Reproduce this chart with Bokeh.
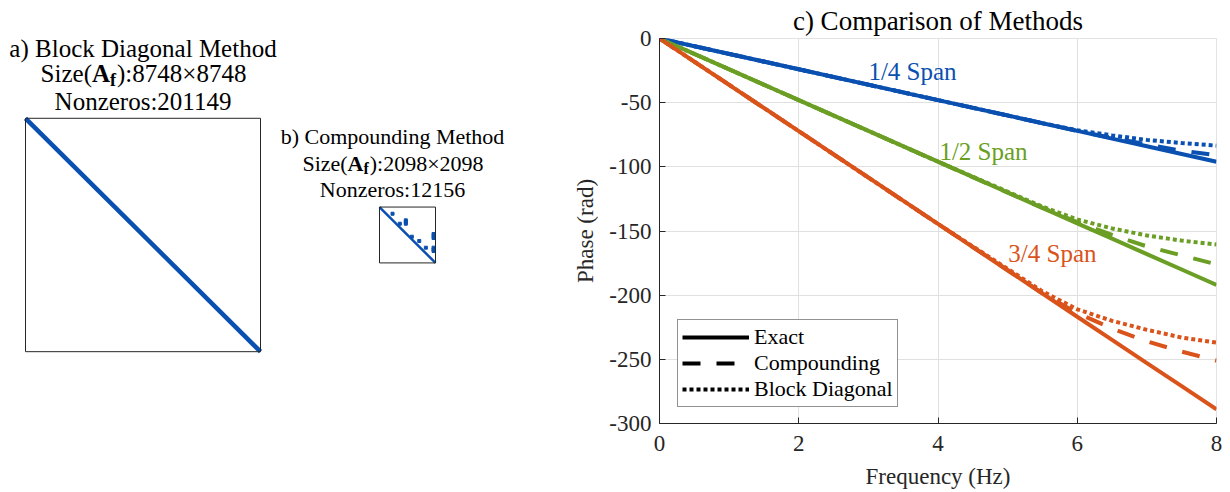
from bokeh.plotting import figure
from bokeh.models import (Label, Range1d, Legend, LegendItem, ColumnDataSource, FixedTicker,
                          CustomJSTickFormatter)
from bokeh.layouts import row
from bokeh.core.properties import value
from bokeh.embed import file_html
from bokeh.resources import INLINE

FONT = "Liberation Serif"
BLUE = "#0A50B0"
GREEN = "#6B9E24"
ORANGE = "#D9531A"
DARK = "#262626"

# ---------------- data: sparsity patterns ----------------
size_a = 8748
nnz_a = 201149
size_b = 2098
nnz_b = 12156
diag_a = [0, 8748]
diag_b = [0, 2098]
off_b_cols = [488, 761, 986, 986, 986, 1211, 1489, 1736, 2025, 2025, 2025, 2025, 2025, 2025]
off_b_rows = [251, 626, 499, 560, 626, 1114, 1275, 1526, 1012, 1088, 1163, 1526, 1590, 1650]

# ---------------- data: phase comparison ----------------
freq = [0, 2, 4, 5.5, 6, 6.5, 7, 7.5, 8]
exact_q = [0, -24, -48, -66, -72, -78, -84, -90, -96]
exact_h = [0, -48, -96, -132, -144, -156, -168, -180, -192]
exact_t = [0, -72.2, -144.5, -198.7, -216.8, -234.8, -252.9, -270.9, -289]
comp_q = [0, -24, -48, -66, -72, -77.5, -82.5, -87.5, -91]
comp_h = [0, -48, -96, -132, -143, -153, -162, -169, -176]
comp_t = [0, -72.2, -144.5, -198.5, -214, -226, -236, -244, -251]
block_q = [0, -24, -48, -66, -71.5, -75.5, -79, -81.5, -83.5]
block_h = [0, -48, -96, -131, -141, -148, -153.5, -157.5, -160.5]
block_t = [0, -72.2, -144.5, -197, -211, -220, -227, -233, -237]
span_labels = ["1/4 Span", "1/2 Span", "3/4 Span"]
span_x = [3.0, 4.02, 5.01]
span_y = [-26, -88, -167.5]
x_ticks = [0, 2, 4, 6, 8]
y_ticks = [-300, -250, -200, -150, -100, -50, 0]
legend_labels = ["Exact", "Compounding", "Block Diagonal"]

# layout (pixels) shared by both figures
TOP, BOTTOM = 37, 69
H = 492
FRAME_TOP, FRAME_BOT = TOP, H - BOTTOM  # 37 .. 423
LEFT_W = 560


def title_lines(fig, xr, yr, xc, ys, line1, size_txt, line3, fs=24):
    common = dict(text_font=FONT, text_font_size=f"{fs}px", text_color="black",
                  text_baseline="middle", x_range_name=xr, y_range_name=yr)
    fig.add_layout(Label(x=xc, y=ys[0], text=line1, text_align="center", **common))
    fig.add_layout(Label(x=xc, y=ys[2], text=line3, text_align="center", **common))
    w1 = 2.055 * fs
    w2 = 0.722 * fs
    w3 = 0.333 * fs * 0.72
    rest = "):" + size_txt
    w4 = 5.175 * fs
    start = -(w1 + w2 + w3 + w4) / 2
    fig.add_layout(Label(x=xc, y=ys[1], text="Size(", text_align="left", x_offset=start, **common))
    fig.add_layout(Label(x=xc, y=ys[1], text="A", text_align="left", x_offset=start + w1,
                         text_font_style="bold", **common))
    c2 = dict(common)
    c2["text_font_size"] = f"{int(round(fs*0.72))}px"
    fig.add_layout(Label(x=xc, y=ys[1], text="f", text_align="left", x_offset=start + w1 + w2,
                         y_offset=-0.25 * fs, text_font_style="bold", **c2))
    fig.add_layout(Label(x=xc, y=ys[1], text=rest, text_align="left",
                         x_offset=start + w1 + w2 + w3 + 1, **common))


def spy_ranges(n, x0, x1, y0, y1):
    sx = n / (x1 - x0)
    sy = n / (y1 - y0)
    xr = Range1d(-x0 * sx, (LEFT_W - x0) * sx)
    yr = Range1d((FRAME_BOT - y0) * sy, -(y0 - FRAME_TOP) * sy)
    return xr, yr, sx, sy


# ---------------- panels a and b (one canvas) ----------------
fl = figure(width=LEFT_W, height=H, x_range=Range1d(0, 1), y_range=Range1d(0, 1),
            output_backend="svg", toolbar_location=None, x_axis_location=None,
            y_axis_location=None, min_border_left=0, min_border_right=0,
            min_border_top=TOP, min_border_bottom=BOTTOM)
fl.xgrid.visible = False
fl.ygrid.visible = False
fl.outline_line_color = None
fl.border_fill_color = "white"

axr, ayr, sxa, sya = spy_ranges(size_a, 25, 260, 117, 351)
bxr, byr, sxb, syb = spy_ranges(size_b, 379, 435, 206, 262)
fl.extra_x_ranges = {"ax": axr, "bx": bxr}
fl.extra_y_ranges = {"ay": ayr, "by": byr}

# panel a
fl.line(diag_a, diag_a, line_width=4.5, color=BLUE, x_range_name="ax", y_range_name="ay")
fl.quad(left=[0], right=[size_a], top=[0], bottom=[size_a], fill_color=None,
        line_color=DARK, line_width=1, x_range_name="ax", y_range_name="ay")
title_lines(fl, "ax", "ay", size_a / 2,
            [(47 - 117) * sya, (72 - 117) * sya, (100 - 117) * sya],
            "a) Block Diagonal Method", f"{size_a}×{size_a}", f"Nonzeros:{nnz_a}", fs=25)

# panel b
fl.line(diag_b, diag_b, line_width=2.5, color=BLUE, x_range_name="bx", y_range_name="by")
fl.scatter(off_b_cols, off_b_rows, marker="square", size=3, color=BLUE,
           x_range_name="bx", y_range_name="by")
fl.quad(left=[0], right=[size_b], top=[0], bottom=[size_b], fill_color=None,
        line_color=DARK, line_width=1, x_range_name="bx", y_range_name="by")
title_lines(fl, "bx", "by", 13 * sxb,
            [(135 - 206) * syb, (162 - 206) * syb, (188 - 206) * syb],
            "b) Compounding Method", f"{size_b}×{size_b}", f"Nonzeros:{nnz_b}", fs=22)

# ---------------- panel c ----------------
fc = figure(width=670, height=H, x_range=Range1d(0, 8), y_range=Range1d(-300, 0),
            output_backend="svg", toolbar_location=None,
            min_border_left=99, min_border_right=14, min_border_top=TOP, min_border_bottom=BOTTOM,
            title="c) Comparison of Methods", x_axis_label="Frequency (Hz)",
            y_axis_label="Phase (rad)")
fc.title.text_font = FONT
fc.title.text_font_size = "27px"
fc.title.text_font_style = "normal"
fc.title.align = "center"
fc.title.text_color = "black"
fc.title.standoff = 6
fc.outline_line_color = "#e3e3e3"
fc.border_fill_color = "white"
fc.xaxis.ticker = FixedTicker(ticks=x_ticks)
fc.yaxis.ticker = FixedTicker(ticks=y_ticks)
fmt = "return tick.toString();"
for ax in (fc.xaxis[0], fc.yaxis[0]):
    ax.formatter = CustomJSTickFormatter(code=fmt)
    ax.axis_line_color = DARK
    ax.axis_line_width = 1
    ax.major_tick_line_color = DARK
    ax.major_tick_in = 6
    ax.major_tick_out = 0
    ax.minor_tick_line_color = None
    ax.major_label_text_font = FONT
    ax.major_label_text_font_size = "23px"
    ax.major_label_text_color = DARK
    ax.axis_label_text_font = FONT
    ax.axis_label_text_font_size = "23px"
    ax.axis_label_text_font_style = "normal"
    ax.axis_label_text_color = DARK
fc.xaxis.major_label_standoff = 12
fc.xaxis.axis_label_standoff = 10
fc.yaxis.major_label_standoff = 8
fc.yaxis.axis_label_standoff = 8
fc.grid.grid_line_color = "#e0e0e0"
fc.grid.grid_line_width = 1

for ys, col in ((exact_q, BLUE), (exact_h, GREEN), (exact_t, ORANGE)):
    fc.line(freq, ys, color=col, line_width=4)
for ys, col in ((comp_q, BLUE), (comp_h, GREEN), (comp_t, ORANGE)):
    fc.line(freq, ys, color=col, line_width=4, line_dash="18 16")
for ys, col in ((block_q, BLUE), (block_h, GREEN), (block_t, ORANGE)):
    fc.line(freq, ys, color=col, line_width=4, line_dash="4 3")

span_src = ColumnDataSource(data=dict(x=span_x, y=span_y, t=span_labels,
                                      c=[BLUE, GREEN, ORANGE]))
fc.text("x", "y", text="t", source=span_src, text_color="c", text_font=value(FONT),
        text_font_size="25px", text_baseline="middle", text_align="left")

# legend key lines (black, no visible data)
nan = float("nan")
key_src = ColumnDataSource(data=dict(x=[nan, nan], y=[nan, nan]))
r1 = fc.line("x", "y", source=key_src, color="black", line_width=4)
r2 = fc.line("x", "y", source=key_src, color="black", line_width=4, line_dash="18 16")
r3 = fc.line("x", "y", source=key_src, color="black", line_width=4, line_dash="4 3")
legend = Legend(items=[LegendItem(label=legend_labels[0], renderers=[r1]),
                       LegendItem(label=legend_labels[1], renderers=[r2]),
                       LegendItem(label=legend_labels[2], renderers=[r3])],
                location=(18, 16))
legend.label_text_font = FONT
legend.label_text_font_size = "22px"
legend.label_text_color = "black"
legend.border_line_color = DARK
legend.border_line_width = 1
legend.background_fill_alpha = 1
legend.glyph_width = 67
legend.glyph_height = 22
legend.label_height = 22
legend.spacing = 0
legend.padding = 4
legend.margin = 0
legend.label_standoff = 5
fc.add_layout(legend)

p = row(fl, fc)
open("out.html", "w").write(file_html(p, INLINE))
